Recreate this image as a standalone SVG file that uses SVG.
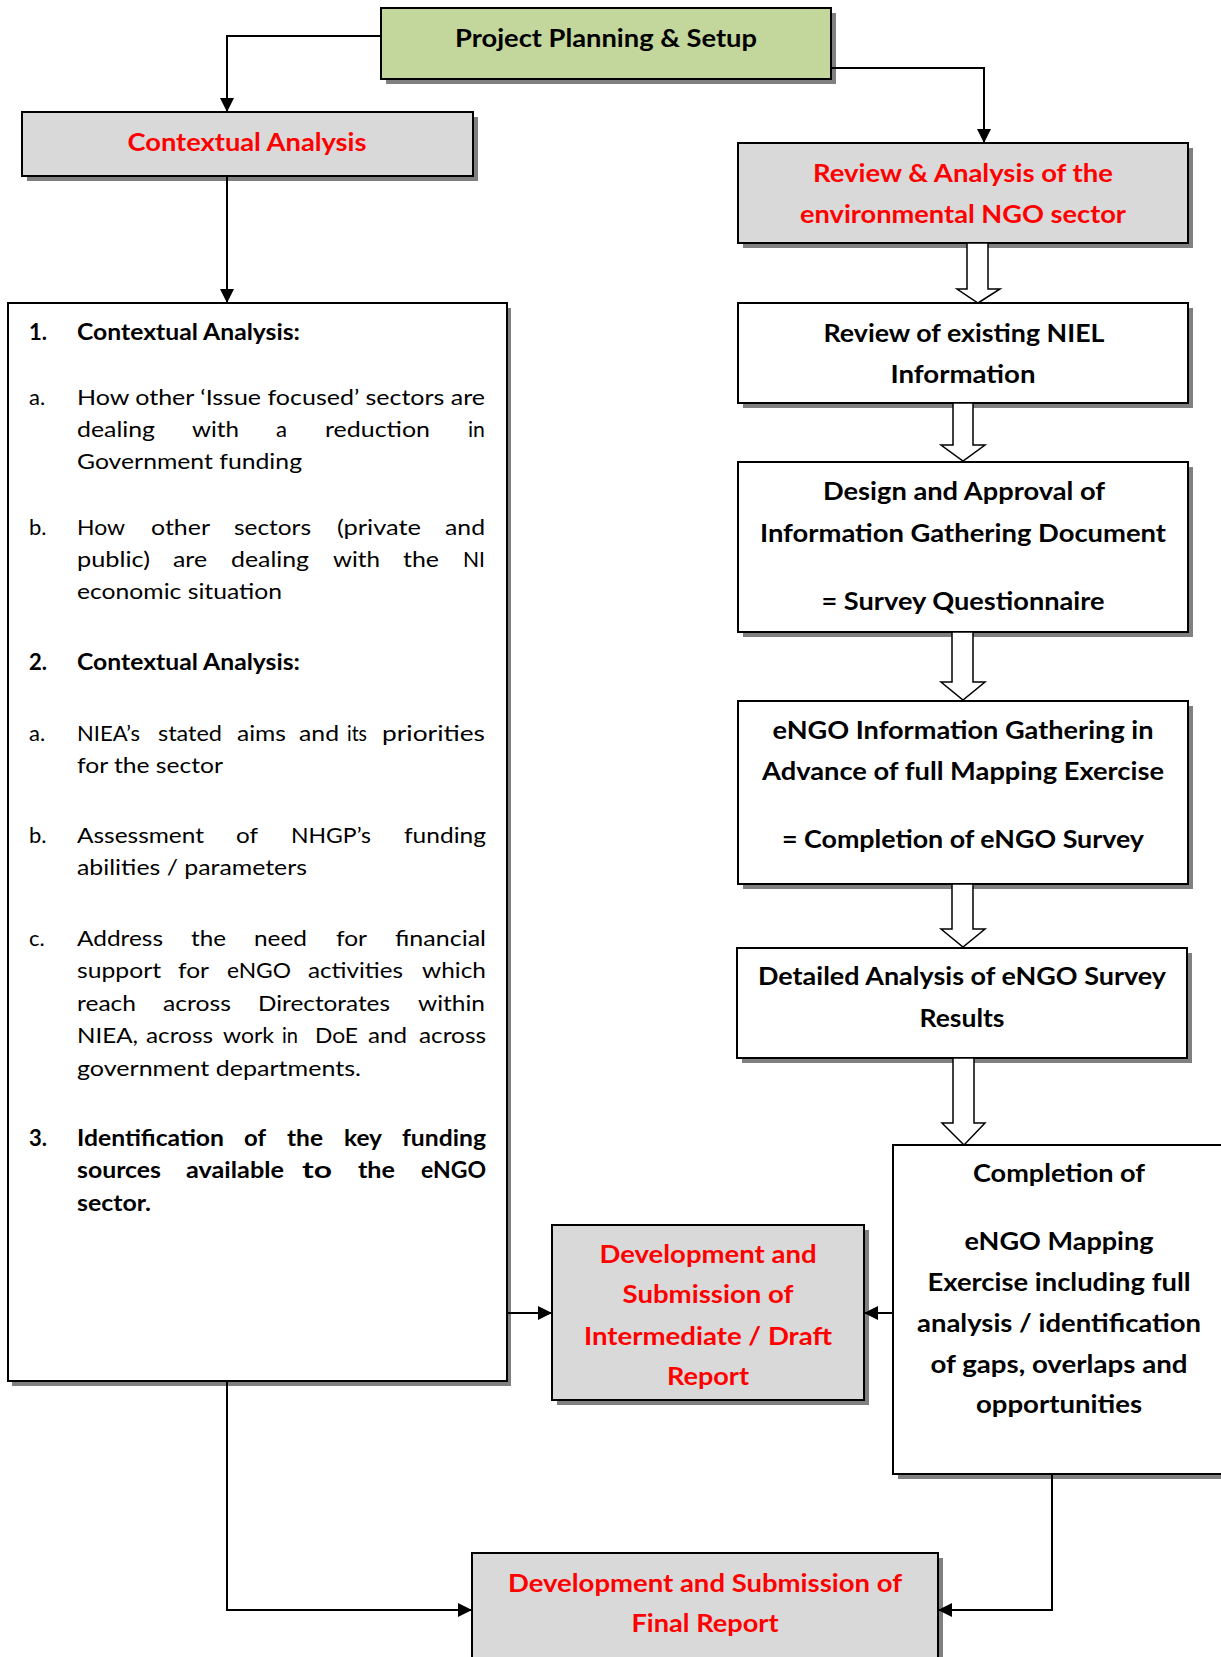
<svg xmlns="http://www.w3.org/2000/svg" width="1221" height="1657" viewBox="0 0 1221 1657">
<style>
.bx{stroke:#000;stroke-width:2}
.gray{fill:#D9D9D9}.green{fill:#C3D69B}.white{fill:#fff}
.sh{fill:#808080}
.h{font-family:Lato,'Liberation Sans',sans-serif;font-weight:700;font-size:25px;text-anchor:middle;fill:#000}
.red{fill:#FF0000}
.t{font-family:Lato,'Liberation Sans',sans-serif;font-size:22px;fill:#000}
.tb{font-weight:700}
.conn{fill:none;stroke:#000;stroke-width:2}
.blk{fill:#fff;stroke:#000;stroke-width:1.5;stroke-linejoin:miter}
</style>
<defs>
<marker id="ah" markerUnits="userSpaceOnUse" markerWidth="15" markerHeight="15" refX="14" refY="7" orient="auto">
<path d="M0,0 L14,7 L0,14 z" fill="#000"/>
</marker>
</defs>

<g id="project">
<rect class="sh" x="386" y="13" width="450" height="71"/>
<rect class="bx green" x="381" y="8" width="450" height="71"/>
<text class="h" x="606" y="47" textLength="302" lengthAdjust="spacingAndGlyphs">Project Planning &amp; Setup</text>
</g>

<g id="contextual">
<rect class="sh" x="27" y="117" width="451" height="64"/>
<rect class="bx gray" x="22" y="112" width="451" height="64"/>
<text class="h red" x="247" y="151" textLength="239" lengthAdjust="spacingAndGlyphs">Contextual Analysis</text>
</g>

<g id="review">
<rect class="sh" x="743" y="148" width="450" height="100"/>
<rect class="bx gray" x="738" y="143" width="450" height="100"/>
<text class="h red" x="963" y="182" textLength="300" lengthAdjust="spacingAndGlyphs">Review &amp; Analysis of the</text>
<text class="h red" x="963" y="223" textLength="326" lengthAdjust="spacingAndGlyphs">environmental NGO sector</text>
</g>

<g id="niel">
<rect class="sh" x="743" y="308" width="450" height="100"/>
<rect class="bx white" x="738" y="303" width="450" height="100"/>
<text class="h" x="964" y="342" textLength="281" lengthAdjust="spacingAndGlyphs">Review of existing NIEL</text>
<text class="h" x="963" y="383" textLength="145" lengthAdjust="spacingAndGlyphs">Information</text>
</g>

<g id="design">
<rect class="sh" x="743" y="467" width="450" height="170"/>
<rect class="bx white" x="738" y="462" width="450" height="170"/>
<text class="h" x="964" y="500" textLength="282" lengthAdjust="spacingAndGlyphs">Design and Approval of</text>
<text class="h" x="963" y="542" textLength="406" lengthAdjust="spacingAndGlyphs">Information Gathering Document</text>
<text class="h" x="963" y="610" textLength="283" lengthAdjust="spacingAndGlyphs">= Survey Questionnaire</text>
</g>

<g id="engo">
<rect class="sh" x="743" y="706" width="450" height="183"/>
<rect class="bx white" x="738" y="701" width="450" height="183"/>
<text class="h" x="963" y="739" textLength="381" lengthAdjust="spacingAndGlyphs">eNGO Information Gathering in</text>
<text class="h" x="963" y="780" textLength="402" lengthAdjust="spacingAndGlyphs">Advance of full Mapping Exercise</text>
<text class="h" x="963" y="848" textLength="362" lengthAdjust="spacingAndGlyphs">= Completion of eNGO Survey</text>
</g>

<g id="detailed">
<rect class="sh" x="742" y="953" width="450" height="110"/>
<rect class="bx white" x="737" y="948" width="450" height="110"/>
<text class="h" x="962" y="985" textLength="408" lengthAdjust="spacingAndGlyphs">Detailed Analysis of eNGO Survey</text>
<text class="h" x="962" y="1027" textLength="85" lengthAdjust="spacingAndGlyphs">Results</text>
</g>

<g id="completion">
<rect class="sh" x="898" y="1150" width="340" height="329"/>
<rect class="bx white" x="893" y="1145" width="340" height="329"/>
<text class="h" x="1059" y="1182" textLength="172" lengthAdjust="spacingAndGlyphs">Completion of</text>
<text class="h" x="1059" y="1250" textLength="189" lengthAdjust="spacingAndGlyphs">eNGO Mapping</text>
<text class="h" x="1059" y="1291" textLength="263" lengthAdjust="spacingAndGlyphs">Exercise including full</text>
<text class="h" x="1059" y="1332" textLength="284" lengthAdjust="spacingAndGlyphs">analysis / identification</text>
<text class="h" x="1059" y="1373" textLength="257" lengthAdjust="spacingAndGlyphs">of gaps, overlaps and</text>
<text class="h" x="1059" y="1413" textLength="166" lengthAdjust="spacingAndGlyphs">opportunities</text>
</g>

<g id="intermediate">
<rect class="sh" x="557" y="1230" width="312" height="175"/>
<rect class="bx gray" x="552" y="1225" width="312" height="175"/>
<text class="h red" x="708" y="1263" textLength="217" lengthAdjust="spacingAndGlyphs">Development and</text>
<text class="h red" x="708" y="1303" textLength="171" lengthAdjust="spacingAndGlyphs">Submission of</text>
<text class="h red" x="708" y="1345" textLength="248" lengthAdjust="spacingAndGlyphs">Intermediate / Draft</text>
<text class="h red" x="708" y="1385" textLength="82" lengthAdjust="spacingAndGlyphs">Report</text>
</g>

<g id="final">
<rect class="sh" x="477" y="1558" width="466" height="120"/>
<rect class="bx gray" x="472" y="1553" width="466" height="120"/>
<text class="h red" x="705" y="1592" textLength="394" lengthAdjust="spacingAndGlyphs">Development and Submission of</text>
<text class="h red" x="705" y="1632" textLength="147" lengthAdjust="spacingAndGlyphs">Final Report</text>
</g>

<g id="details">
<rect class="sh" x="12" y="308" width="499" height="1078"/>
<rect class="bx white" x="8" y="303" width="499" height="1078"/>
<text class="t tb" x="29" y="340">1.</text>
<text class="t tb" x="77" y="340" textLength="223" lengthAdjust="spacingAndGlyphs">Contextual Analysis:</text>

<text class="t" x="29" y="405">a.</text>
<text class="t" x="77" y="405" textLength="408" lengthAdjust="spacingAndGlyphs">How other ‘Issue focused’ sectors are</text>
<text class="t" x="77" y="437" textLength="78" lengthAdjust="spacingAndGlyphs">dealing</text>
<text class="t" x="192" y="437" textLength="47" lengthAdjust="spacingAndGlyphs">with</text>
<text class="t" x="276" y="437" textLength="11" lengthAdjust="spacingAndGlyphs">a</text>
<text class="t" x="325" y="437" textLength="105" lengthAdjust="spacingAndGlyphs">reduction</text>
<text class="t" x="468" y="437" textLength="17" lengthAdjust="spacingAndGlyphs">in</text>
<text class="t" x="77" y="469" textLength="225" lengthAdjust="spacingAndGlyphs">Government funding</text>

<text class="t" x="29" y="535">b.</text>
<text class="t" x="77" y="535" textLength="48" lengthAdjust="spacingAndGlyphs">How</text>
<text class="t" x="151" y="535" textLength="59" lengthAdjust="spacingAndGlyphs">other</text>
<text class="t" x="234" y="535" textLength="77" lengthAdjust="spacingAndGlyphs">sectors</text>
<text class="t" x="337" y="535" textLength="84" lengthAdjust="spacingAndGlyphs">(private</text>
<text class="t" x="445" y="535" textLength="40" lengthAdjust="spacingAndGlyphs">and</text>
<text class="t" x="77" y="567" textLength="73" lengthAdjust="spacingAndGlyphs">public)</text>
<text class="t" x="173" y="567" textLength="34" lengthAdjust="spacingAndGlyphs">are</text>
<text class="t" x="231" y="567" textLength="78" lengthAdjust="spacingAndGlyphs">dealing</text>
<text class="t" x="333" y="567" textLength="47" lengthAdjust="spacingAndGlyphs">with</text>
<text class="t" x="403" y="567" textLength="36" lengthAdjust="spacingAndGlyphs">the</text>
<text class="t" x="463" y="567" textLength="22" lengthAdjust="spacingAndGlyphs">NI</text>
<text class="t" x="77" y="599" textLength="205" lengthAdjust="spacingAndGlyphs">economic situation</text>

<text class="t tb" x="29" y="670">2.</text>
<text class="t tb" x="77" y="670" textLength="223" lengthAdjust="spacingAndGlyphs">Contextual Analysis:</text>

<text class="t" x="29" y="741">a.</text>
<text class="t" x="77" y="741" textLength="63" lengthAdjust="spacingAndGlyphs">NIEA’s</text>
<text class="t" x="158" y="741" textLength="64" lengthAdjust="spacingAndGlyphs">stated</text>
<text class="t" x="237" y="741" textLength="49" lengthAdjust="spacingAndGlyphs">aims</text>
<text class="t" x="299" y="741" textLength="40" lengthAdjust="spacingAndGlyphs">and</text>
<text class="t" x="347" y="741" textLength="20" lengthAdjust="spacingAndGlyphs">its</text>
<text class="t" x="382" y="741" textLength="103" lengthAdjust="spacingAndGlyphs">priorities</text>
<text class="t" x="77" y="773" textLength="146" lengthAdjust="spacingAndGlyphs">for the sector</text>

<text class="t" x="29" y="843">b.</text>
<text class="t" x="77" y="843" textLength="127" lengthAdjust="spacingAndGlyphs">Assessment</text>
<text class="t" x="236" y="843" textLength="22" lengthAdjust="spacingAndGlyphs">of</text>
<text class="t" x="291" y="843" textLength="80" lengthAdjust="spacingAndGlyphs">NHGP’s</text>
<text class="t" x="404" y="843" textLength="82" lengthAdjust="spacingAndGlyphs">funding</text>
<text class="t" x="77" y="875" textLength="230" lengthAdjust="spacingAndGlyphs">abilities / parameters</text>

<text class="t" x="29" y="946">c.</text>
<text class="t" x="77" y="946" textLength="86" lengthAdjust="spacingAndGlyphs">Address</text>
<text class="t" x="191" y="946" textLength="35" lengthAdjust="spacingAndGlyphs">the</text>
<text class="t" x="254" y="946" textLength="53" lengthAdjust="spacingAndGlyphs">need</text>
<text class="t" x="336" y="946" textLength="31" lengthAdjust="spacingAndGlyphs">for</text>
<text class="t" x="395" y="946" textLength="91" lengthAdjust="spacingAndGlyphs">financial</text>
<text class="t" x="77" y="978" textLength="84" lengthAdjust="spacingAndGlyphs">support</text>
<text class="t" x="178" y="978" textLength="31" lengthAdjust="spacingAndGlyphs">for</text>
<text class="t" x="227" y="978" textLength="64" lengthAdjust="spacingAndGlyphs">eNGO</text>
<text class="t" x="308" y="978" textLength="95" lengthAdjust="spacingAndGlyphs">activities</text>
<text class="t" x="422" y="978" textLength="64" lengthAdjust="spacingAndGlyphs">which</text>
<text class="t" x="77" y="1011" textLength="59" lengthAdjust="spacingAndGlyphs">reach</text>
<text class="t" x="163" y="1011" textLength="68" lengthAdjust="spacingAndGlyphs">across</text>
<text class="t" x="258" y="1011" textLength="132" lengthAdjust="spacingAndGlyphs">Directorates</text>
<text class="t" x="418" y="1011" textLength="67" lengthAdjust="spacingAndGlyphs">within</text>
<text class="t" x="77" y="1043" textLength="61" lengthAdjust="spacingAndGlyphs">NIEA,</text>
<text class="t" x="146" y="1043" textLength="67" lengthAdjust="spacingAndGlyphs">across</text>
<text class="t" x="223" y="1043" textLength="51" lengthAdjust="spacingAndGlyphs">work</text>
<text class="t" x="282" y="1043" textLength="16" lengthAdjust="spacingAndGlyphs">in</text>
<text class="t" x="315" y="1043" textLength="43" lengthAdjust="spacingAndGlyphs">DoE</text>
<text class="t" x="368" y="1043" textLength="39" lengthAdjust="spacingAndGlyphs">and</text>
<text class="t" x="419" y="1043" textLength="67" lengthAdjust="spacingAndGlyphs">across</text>
<text class="t" x="77" y="1076" textLength="284" lengthAdjust="spacingAndGlyphs">government departments.</text>

<text class="t tb" x="29" y="1146">3.</text>
<text class="t tb" x="77" y="1146" textLength="147" lengthAdjust="spacingAndGlyphs">Identification</text>
<text class="t tb" x="244" y="1146" textLength="22" lengthAdjust="spacingAndGlyphs">of</text>
<text class="t tb" x="287" y="1146" textLength="36" lengthAdjust="spacingAndGlyphs">the</text>
<text class="t tb" x="344" y="1146" textLength="38" lengthAdjust="spacingAndGlyphs">key</text>
<text class="t tb" x="402" y="1146" textLength="84" lengthAdjust="spacingAndGlyphs">funding</text>
<text class="t tb" x="77" y="1178" textLength="84" lengthAdjust="spacingAndGlyphs">sources</text>
<text class="t tb" x="186" y="1178" textLength="98" lengthAdjust="spacingAndGlyphs">available</text>
<text class="t tb" x="302" y="1178" textLength="30" lengthAdjust="spacingAndGlyphs">to</text>
<text class="t tb" x="358" y="1178" textLength="37" lengthAdjust="spacingAndGlyphs">the</text>
<text class="t tb" x="421" y="1178" textLength="65" lengthAdjust="spacingAndGlyphs">eNGO</text>
<text class="t tb" x="77" y="1211" textLength="74" lengthAdjust="spacingAndGlyphs">sector.</text>
</g>

<g id="connectors">
<path class="conn" d="M381,36 H227 V112" marker-end="url(#ah)"/>
<path class="conn" d="M831,68 H984 V143" marker-end="url(#ah)"/>
<path class="conn" d="M227,176 V303" marker-end="url(#ah)"/>
<path class="conn" d="M507,1313 H552" marker-end="url(#ah)"/>
<path class="conn" d="M893,1313 H864" marker-end="url(#ah)"/>
<path class="conn" d="M227,1381 V1610 H472" marker-end="url(#ah)"/>
<path class="conn" d="M1052,1474 V1610 H938" marker-end="url(#ah)"/>
<polygon class="blk" points="967,243 988,243 988,289 1000,289 978,303 957,289 967,289"/>
<polygon class="blk" points="953,403 973,403 973,445 985,445 963,461 941,445 953,445"/>
<polygon class="blk" points="952,632 973,632 973,682 985,682 963,700 941,682 952,682"/>
<polygon class="blk" points="952,884 973,884 973,929 985,929 963,947 941,929 952,929"/>
<polygon class="blk" points="953,1058 974,1058 974,1123 985,1123 964,1145 942,1123 953,1123"/>
</g>
</svg>
